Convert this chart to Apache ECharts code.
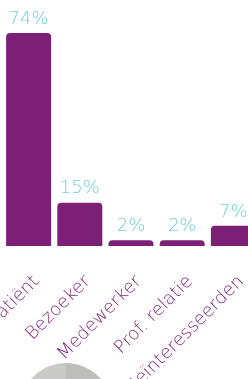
<!DOCTYPE html>
<html>
<head>
<meta charset="utf-8">
<script src="https://cdn.jsdelivr.net/npm/echarts@6/dist/echarts.min.js"></script>
<style>
  html, body { margin: 0; padding: 0; background: #fff; }
  #chart { width: 248px; height: 379px; }
</style>
</head>
<body>
<div id="chart"></div>
<script>
// bezoekers per groep (procent)
const categories = ['Patiënt', 'Bezoeker', 'Medewerker', 'Prof. relatie', 'Geïnteresseerden'];
const percentages = [74, 15, 2, 2, 7];
// taartje onderaan, alleen de bovenkant is zichtbaar
const pieValues = [50, 50];

const purple = '#7b1f77';
const cyan = '#6fcfe0';
const font = 'DejaVu Sans';

var myChart = echarts.init(document.getElementById('chart'));
myChart.setOption({
  animation: false,
  grid: { left: 3, width: 256, top: 33, bottom: 133, containLabel: false, outerBoundsMode: 'none' },
  xAxis: {
    type: 'category',
    data: categories,
    axisLine: { show: false },
    axisTick: { show: false },
    axisLabel: {
      interval: 0,
      rotate: 45,
      margin: 25,
      verticalAlign: 'top',
      lineHeight: 22,
      color: purple,
      fontFamily: font,
      fontSize: 18,
      fontWeight: 200
    }
  },
  yAxis: { type: 'value', min: 0, max: 74, show: false, splitLine: { show: false } },
  series: [
    {
      type: 'bar',
      data: percentages,
      barWidth: 45,
      itemStyle: { color: purple, borderRadius: [4, 4, 0, 0] },
      label: {
        show: true,
        position: 'top',
        distance: 5,
        formatter: '{c}%',
        color: cyan,
        fontFamily: font,
        fontSize: 18,
        fontWeight: 200
      }
    },
    {
      type: 'pie',
      center: [66, 409],
      radius: 46,
      startAngle: 90,
      silent: true,
      label: { show: false },
      labelLine: { show: false },
      data: pieValues.map((v, i) => ({
        value: v,
        itemStyle: { color: i === 0 ? '#bdbdbb' : '#c9c9c7' }
      }))
    }
  ]
});
</script>
</body>
</html>
